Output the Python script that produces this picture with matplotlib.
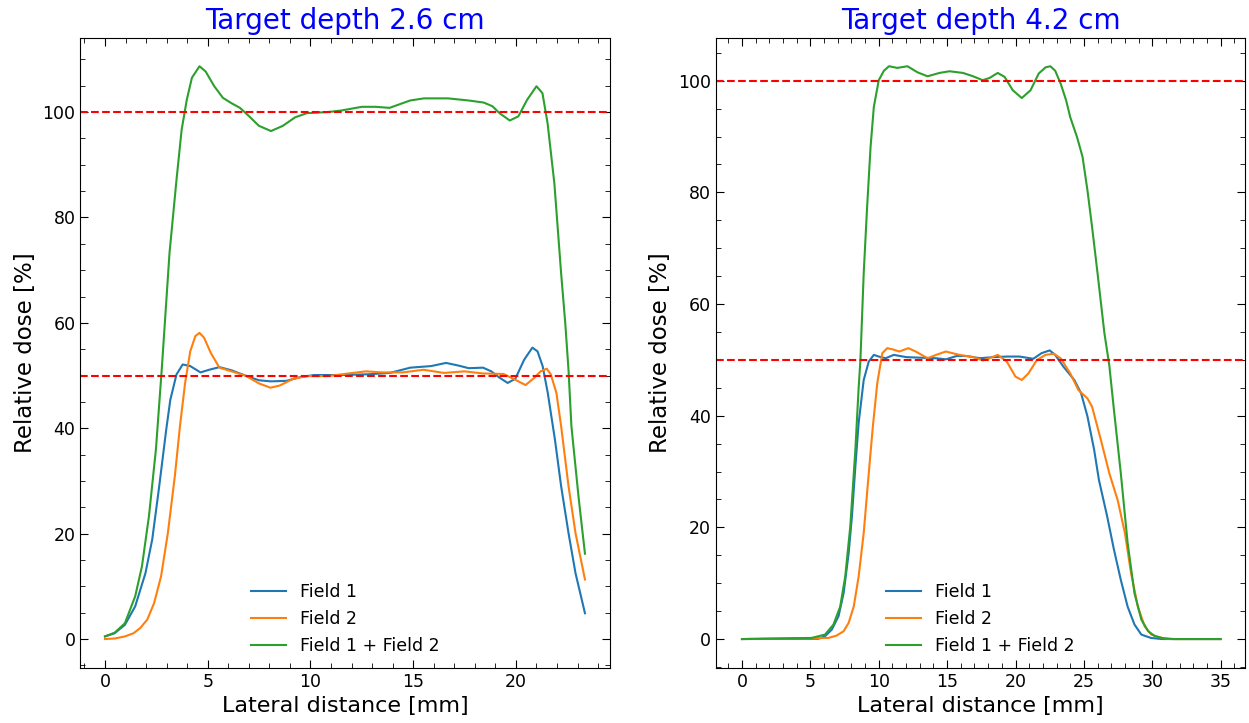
import matplotlib
matplotlib.use("Agg")
import matplotlib.pyplot as plt
from matplotlib.ticker import MultipleLocator

# lateral dose profiles, target depth 2.6 cm
d26_x1 = [0, 0.47, 0.97, 1.47, 1.97, 2.3, 2.64, 2.98, 3.18, 3.48, 3.78, 4.15, 4.65, 5.07, 5.57,
          6.16, 6.83, 7.5, 8.08, 8.84, 9.5, 10.18, 11.5, 12.85, 13.86, 14.86, 15.87, 16.6,
          17.2, 17.7, 18.4, 18.8, 19.2, 19.6, 19.97, 20.4, 20.8, 21.05, 21.3, 21.55, 21.9,
          22.2, 22.56, 22.9, 23.36]
d26_f1 = [0.5, 1.1, 2.7, 6.2, 12.5, 18.9, 29.0, 39.7, 45.4, 50.2, 52.1, 51.8, 50.6, 51.1, 51.6,
          51.0, 50.0, 49.1, 48.9, 49.0, 49.7, 50.1, 50.1, 50.25, 50.5, 51.5, 51.8, 52.4,
          51.9, 51.4, 51.5, 50.8, 49.6, 48.6, 49.4, 53.0, 55.3, 54.6, 51.8, 46.7, 37.8,
          29.0, 20.1, 12.5, 4.9]

d26_x2 = [0, 0.47, 0.97, 1.39, 1.72, 2.06, 2.39, 2.73, 3.06, 3.4, 3.65, 3.9, 4.15, 4.4, 4.6,
          4.82, 5.15, 5.57, 6.16, 6.83, 7.5, 8.05, 8.5, 9.17, 9.84, 10.85, 11.85, 12.7, 13.5,
          14.5, 15.5, 16.5, 17.5, 18.4, 19.4, 19.97, 20.47, 20.9, 21.2, 21.5, 21.7, 21.97,
          22.2, 22.56, 22.9, 23.36]
d26_f2 = [0.0, 0.1, 0.5, 1.1, 2.1, 3.7, 6.8, 11.9, 20.1, 30.9, 40.4, 48.6, 54.6, 57.5, 58.1,
          57.2, 54.3, 51.5, 50.8, 50.0, 48.5, 47.7, 48.1, 49.4, 49.9, 49.9, 50.4, 50.8, 50.6,
          50.6, 51.1, 50.5, 50.8, 50.4, 50.3, 49.2, 48.2, 49.6, 50.8, 51.3, 50.2, 46.7,
          40.4, 29.0, 20.1, 11.3]

d26_xs = [0, 0.47, 0.97, 1.47, 1.8, 2.14, 2.48, 2.76, 3.0, 3.14, 3.48, 3.73, 3.98, 4.23, 4.6,
          4.9, 5.32, 5.74, 6.15, 6.57, 6.99, 7.49, 8.08, 8.66, 9.25, 9.83, 10.84, 11.5, 12.5,
          13.18, 13.85, 14.85, 15.52, 16.7, 17.7, 18.44, 18.86, 19.2, 19.7, 20.12, 20.54,
          21.0, 21.29, 21.54, 21.87, 22.2, 22.4, 22.56, 22.7, 23.06, 23.36]
d26_sum = [0.5, 1.2, 3.0, 8.1, 13.8, 23.3, 36.0, 51.0, 65.0, 73.2, 87.1, 96.6, 102.3, 106.5,
           108.7, 107.7, 104.9, 102.7, 101.7, 100.8, 99.3, 97.4, 96.4, 97.4, 99.0, 99.8,
           100.0, 100.3, 101.0, 101.0, 100.8, 102.2, 102.6, 102.6, 102.2, 101.8, 101.1,
           99.8, 98.4, 99.2, 102.3, 104.9, 103.6, 97.9, 86.5, 69.4, 60.0, 51.0, 40.4, 26.5,
           16.2]

# lateral dose profiles, target depth 4.2 cm
d42_x1 = [0, 5.58, 6.07, 6.57, 7.06, 7.43, 7.8, 8.04, 8.29, 8.53, 8.9, 9.27, 9.64, 10.0, 10.5,
          11.1, 12.0, 13.0, 14.2, 14.9, 15.7, 16.4, 17.4, 18.4, 19.36, 20.3, 21.3, 21.9,
          22.5, 22.9, 23.5, 24.3, 24.8, 25.26, 25.75, 26.1, 26.7, 27.2, 27.7, 28.2, 28.7,
          29.2, 29.9, 30.7, 35.0]
d42_f1 = [0.0, 0.05, 0.5, 1.7, 4.1, 8.2, 15.4, 22.0, 30.9, 38.7, 46.4, 49.7, 50.9, 50.6, 50.3,
          50.9, 50.5, 50.4, 50.3, 50.1, 50.7, 50.7, 50.3, 50.5, 50.6, 50.6, 50.2, 51.2,
          51.7, 50.9, 48.8, 46.4, 44.0, 39.9, 33.9, 28.5, 22.0, 16.0, 10.6, 5.8, 2.6,
          0.8, 0.2, 0.0, 0.0]

d42_x2 = [0, 6.32, 6.9, 7.43, 7.8, 8.17, 8.53, 8.9, 9.27, 9.57, 9.89, 10.26, 10.62, 11.0, 11.5,
          12.17, 12.7, 13.58, 14.2, 14.9, 15.9, 16.9, 17.6, 18.1, 18.7, 19.36, 20.0, 20.46,
          20.95, 21.57, 22.2, 22.8, 23.3, 24.0, 24.6, 25.26, 25.6, 26.24, 26.86, 27.47,
          28.0, 28.45, 28.95, 29.44, 29.93, 30.7, 31.4, 35.0]
d42_f2 = [0.0, 0.2, 0.6, 1.4, 2.9, 5.8, 11.2, 19.0, 29.7, 38.1, 45.8, 51.2, 52.1, 51.9, 51.5,
          52.1, 51.5, 50.3, 50.9, 51.5, 50.9, 50.5, 49.9, 50.3, 50.9, 49.7, 47.0, 46.4,
          47.6, 50.0, 50.9, 51.1, 50.3, 47.6, 44.6, 43.1, 41.6, 35.7, 29.7, 24.9,
          19.0, 11.8, 5.8, 2.3, 0.8, 0.2, 0.0, 0.0]

d42_xs = [0, 5.09, 6.07, 6.69, 7.18, 7.55, 7.92, 8.29, 8.53, 8.66, 8.9, 9.15, 9.4, 9.64, 10.0,
          10.38, 10.75, 11.36, 12.1, 12.84, 13.57, 14.44, 15.17, 16.16, 16.9, 17.6, 18.1,
          18.7, 19.2, 19.8, 20.46, 21.1, 21.7, 22.2, 22.55, 22.9, 23.3, 23.7, 24.0, 24.5,
          24.9, 25.26, 25.6, 26.0, 26.5, 26.86, 27.2, 27.7, 28.2, 28.7, 29.2, 29.7, 30.2,
          30.9, 31.65, 35.0]
d42_sum = [0.0, 0.2, 0.8, 2.6, 5.8, 11.2, 20.2, 33.9, 45.0, 50.0, 65.5, 77.4, 88.1, 95.3,
           100.1, 101.8, 102.6, 102.3, 102.6, 101.5, 100.8, 101.4, 101.7, 101.4, 100.8,
           100.1, 100.5, 101.4, 100.7, 98.3, 96.9, 98.3, 101.3, 102.4, 102.6, 101.8, 99.5,
           96.5, 93.5, 89.9, 86.4, 80.4, 73.8, 65.5, 54.8, 49.0, 41.0, 29.7, 17.2, 8.2,
           3.5, 1.4, 0.5, 0.1, 0.0, 0.0]

titles = ["Target depth 2.6 cm", "Target depth 4.2 cm"]
profiles = [
    (d26_x1, d26_f1, d26_x2, d26_f2, d26_xs, d26_sum),
    (d42_x1, d42_f1, d42_x2, d42_f2, d42_xs, d42_sum),
]
xlims = [(-1.2, 24.57), (-1.92, 36.8)]

fig, axes = plt.subplots(1, 2, figsize=(12.49, 7.23), dpi=100)
fig.subplots_adjust(left=0.0643, right=0.997, bottom=0.0765, top=0.948, wspace=0.2)

for ax, title, prof, xl in zip(axes, titles, profiles, xlims):
    x1, f1, x2, f2, xs, fs = prof
    ax.plot(x1, f1, color="C0", lw=1.5, label="Field 1")
    ax.plot(x2, f2, color="C1", lw=1.5, label="Field 2")
    ax.plot(xs, fs, color="C2", lw=1.5, label="Field 1 + Field 2")
    ax.axhline(100, color="red", ls="--", lw=1.5)
    ax.axhline(50, color="red", ls="--", lw=1.5)
    ax.set_xlim(*xl)
    ax.set_title(title, color="blue", fontsize=20)
    ax.set_xlabel("Lateral distance [mm]", fontsize=16)
    ax.set_ylabel("Relative dose [%]", fontsize=16.5)
    ax.xaxis.set_minor_locator(MultipleLocator(1))
    ax.yaxis.set_minor_locator(MultipleLocator(5))
    ax.tick_params(which="both", direction="in", top=True, right=True, labelsize=12.5)
    ax.tick_params(which="major", length=5.8)
    ax.tick_params(which="minor", length=3.3)
    ax.legend(loc="lower center", frameon=False, fontsize=12.5, borderaxespad=0.35)

plt.savefig("out.png", dpi=100)
